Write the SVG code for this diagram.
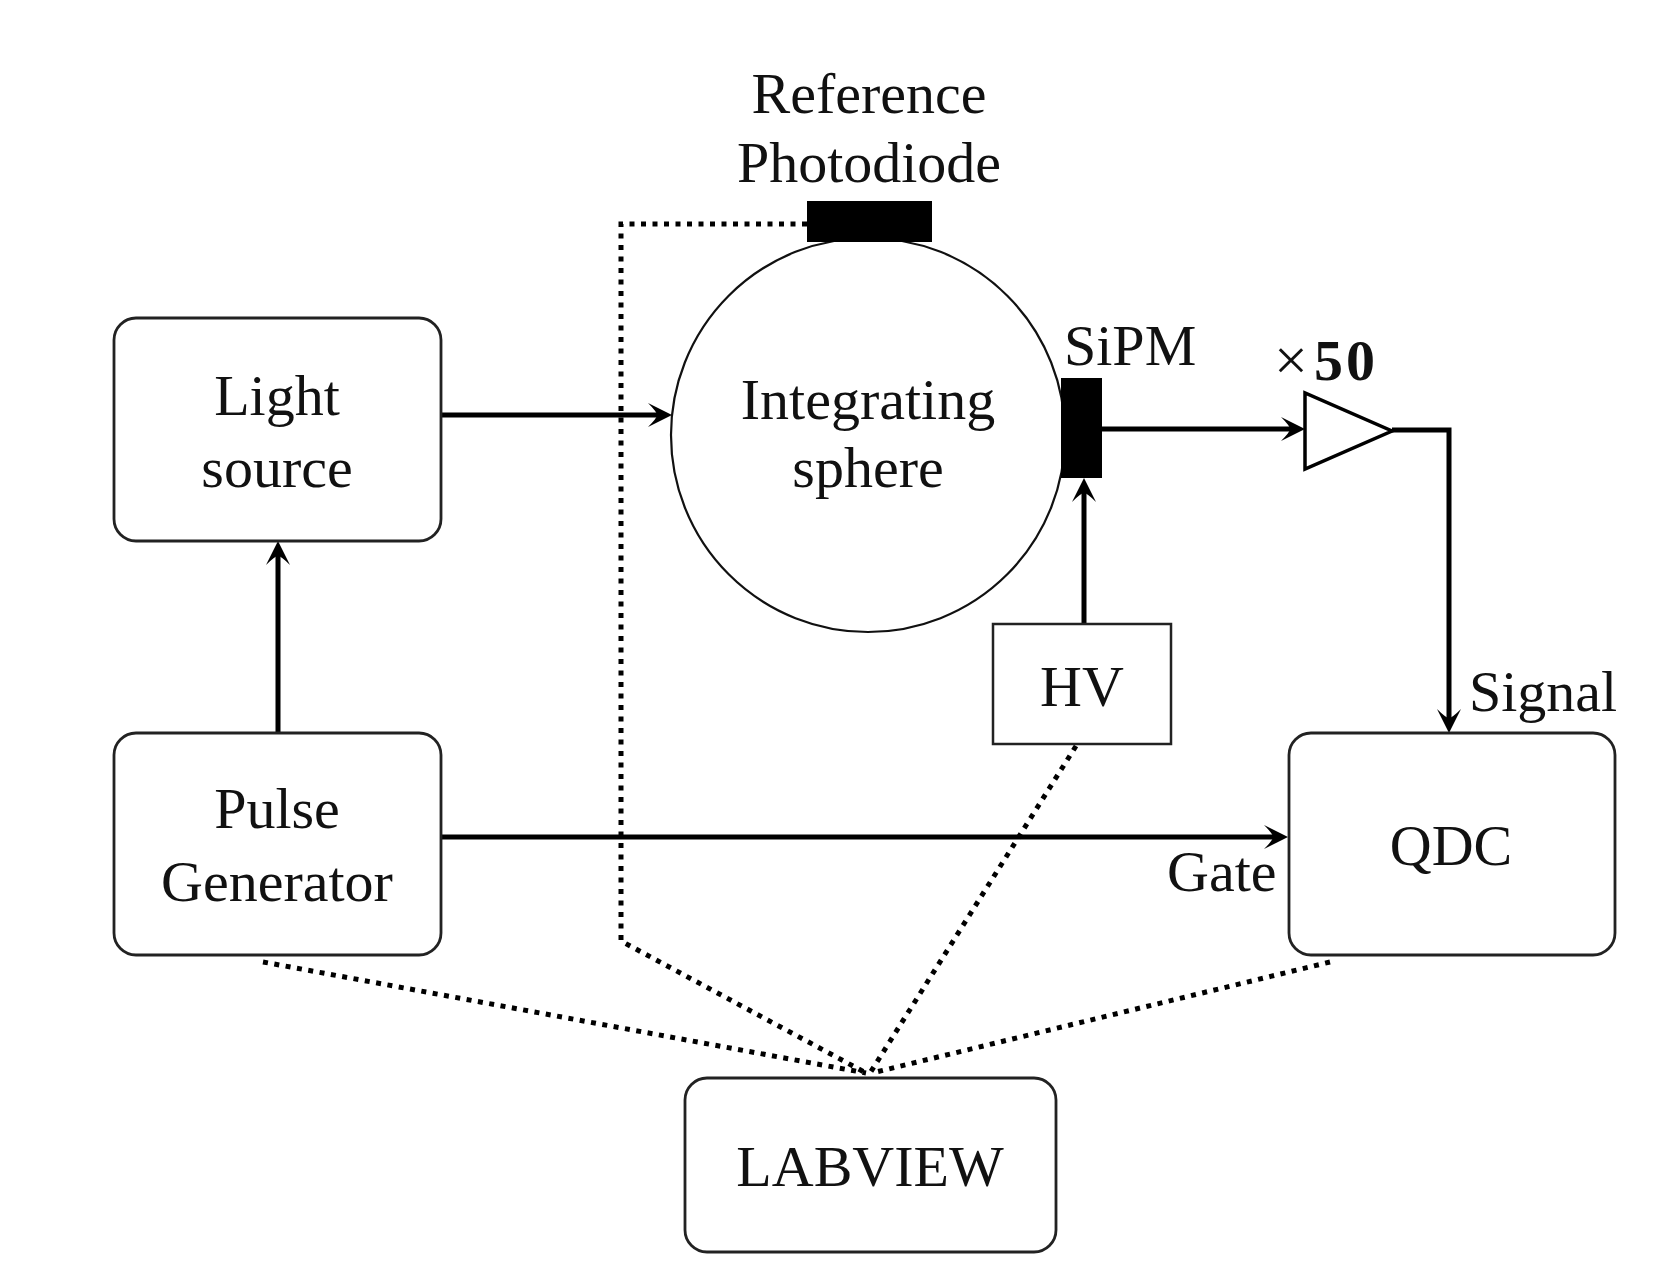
<svg xmlns="http://www.w3.org/2000/svg" width="1670" height="1274" viewBox="0 0 1670 1274">
<style>
.box{fill:#fff;stroke:#222;stroke-width:2.8}
.t{font-family:"Liberation Serif","Times New Roman",serif;font-size:58px;fill:#111;text-anchor:middle}
.ts{font-family:"Liberation Serif","Times New Roman",serif;font-size:58px;fill:#111}
.arr{fill:none;stroke:#000;stroke-width:5}
.dot{fill:none;stroke:#000;stroke-width:5;stroke-dasharray:5 6.5}
</style>
<defs>
<marker id="ah" viewBox="-26 -14 28 28" refX="-6" refY="0" markerWidth="28" markerHeight="28" markerUnits="userSpaceOnUse" orient="auto">
<path d="M0,0 L-24,-12 Q-15,-3 -15,0 Q-15,3 -24,12 Z" fill="#000"/>
</marker>
</defs>
<rect width="1670" height="1274" fill="#fff"/>
<g id="connectors">
<line class="arr" x1="441" y1="415" x2="666" y2="415" marker-end="url(#ah)"/>
<line class="arr" x1="278" y1="733" x2="278" y2="547" marker-end="url(#ah)"/>
<line class="arr" x1="441" y1="837" x2="1282" y2="837" marker-end="url(#ah)"/>
<line class="arr" x1="1102" y1="429" x2="1299" y2="429" marker-end="url(#ah)"/>
<polyline class="arr" points="1392,430 1449,430 1449,727" marker-end="url(#ah)"/>
<line class="arr" x1="1084" y1="623" x2="1084" y2="484" marker-end="url(#ah)"/>
<polyline class="dot" points="807,224 621,224 621,941 866,1073"/>
<line class="dot" x1="263" y1="962" x2="866" y2="1073"/>
<line class="dot" x1="1076" y1="746" x2="870" y2="1073"/>
<line class="dot" x1="1330" y1="962" x2="872" y2="1073"/>
</g>
<g id="sphere">
<circle cx="868" cy="435" r="197" fill="none" stroke="#111" stroke-width="2.2"/>
<text class="t" x="868" y="419">Integrating</text>
<text class="t" x="868" y="487">sphere</text>
</g>
<g id="photodiode">
<rect x="807" y="201" width="125" height="41" fill="#000"/>
<text class="t" x="869" y="113">Reference</text>
<text class="t" x="869" y="182">Photodiode</text>
</g>
<g id="sipm">
<rect x="1061" y="378" width="41" height="100" fill="#000"/>
<text class="ts" x="1064" y="365">SiPM</text>
</g>
<g id="amplifier">
<polygon points="1305,393 1305,469 1392,431" fill="#fff" stroke="#000" stroke-width="3.5" stroke-linejoin="miter"/>
<text x="1274" y="380" font-family="'Liberation Serif','Times New Roman',serif" font-size="60" fill="#111">×</text>
<text x="1314" y="380" font-family="'Liberation Serif','Times New Roman',serif" font-size="58" font-weight="bold" fill="#111" letter-spacing="3">50</text>
</g>
<g id="light-source">
<rect class="box" x="114" y="318" width="327" height="223" rx="22"/>
<text class="t" x="277" y="415">Light</text>
<text class="t" x="277" y="487">source</text>
</g>
<g id="pulse-generator">
<rect class="box" x="114" y="733" width="327" height="222" rx="22"/>
<text class="t" x="277" y="828">Pulse</text>
<text class="t" x="277" y="901">Generator</text>
</g>
<g id="hv">
<rect x="993" y="624" width="178" height="120" fill="#fff" stroke="#222" stroke-width="2.5"/>
<text class="t" x="1082" y="706">HV</text>
</g>
<g id="qdc">
<rect class="box" x="1289" y="733" width="326" height="222" rx="22"/>
<text class="t" x="1451" y="865">QDC</text>
<text class="ts" x="1167" y="891">Gate</text>
<text class="ts" x="1469" y="711">Signal</text>
</g>
<g id="labview">
<rect class="box" x="685" y="1078" width="371" height="174" rx="22"/>
<text class="t" x="870" y="1186">LABVIEW</text>
</g>
</svg>
